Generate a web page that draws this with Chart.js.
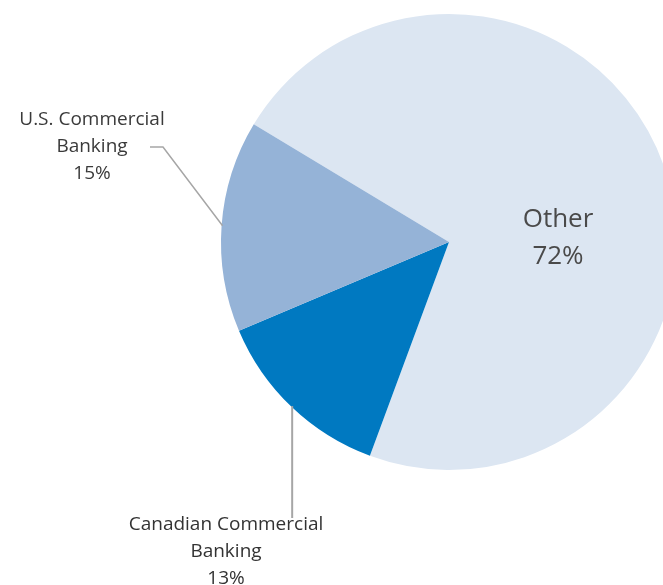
<!DOCTYPE html>
<html>
<head>
<meta charset="utf-8">
<script src="https://cdn.jsdelivr.net/npm/chart.js@4/dist/chart.umd.min.js"></script>
<style>
    html, body { margin: 0; padding: 0; background: #fff; overflow: hidden; }
    #wrap { position: relative; width: 700px; height: 585px; }
</style>
</head>
<body>
<div id="wrap"><canvas id="pieChart" width="700" height="585"></canvas></div>
<script>
// Data
const segmentNames = ['Other', 'Canadian Commercial Banking', 'U.S. Commercial Banking'];
const segmentShares = [72, 13, 15];
const segmentColors = ['#dce6f2', '#0079c1', '#95b3d7'];

// Label lines for each slice (text only)
const labelLines = [
    ['Other', '72%'],
    ['Canadian Commercial', 'Banking', '13%'],
    ['U.S. Commercial', 'Banking', '15%']
];

// Label placement: inside for the big slice, leader lines for the small ones
const labelStyle = [
    { inside: true, x: 558, y: 220, size: 26, lineH: 37, color: '#4a4a4a' },
    { inside: false, x: 226, y: 525, size: 19, lineH: 27, color: '#333333', leader: 'vertical', endY: 518 },
    { inside: false, x: 92, y: 120, size: 19, lineH: 27, color: '#3a3a3a', leader: 'elbow', elbowX: 163, elbowY: 147, startX: 150 }
];

const sliceLabels = {
    id: 'sliceLabels',
    afterDraw(chart) {
        const ctx = chart.ctx;
        const arcs = chart.getDatasetMeta(0).data;
        ctx.save();
        arcs.forEach((arc, i) => {
            const st = labelStyle[i];
            const mid = (arc.startAngle + arc.endAngle) / 2;
            const ax = arc.x + Math.cos(mid) * (arc.outerRadius - 1);
            const ay = arc.y + Math.sin(mid) * (arc.outerRadius - 1);

            // leader lines
            if (!st.inside) {
                ctx.strokeStyle = '#a6a6a6';
                ctx.lineWidth = 2;
                ctx.beginPath();
                if (st.leader === 'vertical') {
                    ctx.moveTo(ax, ay);
                    ctx.lineTo(ax, st.endY);
                } else {
                    ctx.lineWidth = 1.5;
                    ctx.moveTo(st.startX, st.elbowY);
                    ctx.lineTo(st.elbowX, st.elbowY);
                    ctx.lineTo(ax, ay);
                }
                ctx.stroke();
            }

            // text
            ctx.fillStyle = st.color;
            ctx.font = st.size + 'px "Open Sans", sans-serif';
            ctx.textAlign = 'center';
            ctx.textBaseline = 'middle';
            labelLines[i].forEach((line, j) => {
                ctx.fillText(line, st.x, st.y + j * st.lineH);
            });
        });
        ctx.restore();
    }
};

new Chart(document.getElementById('pieChart'), {
    type: 'pie',
    data: {
        labels: segmentNames,
        datasets: [{
            data: segmentShares,
            backgroundColor: segmentColors,
            borderWidth: 0
        }]
    },
    options: {
        responsive: false,
        animation: false,
        rotation: 301.1,
        layout: { padding: { left: 221, right: 23, top: 14, bottom: 115 } },
        plugins: {
            legend: { display: false },
            tooltip: { enabled: false }
        }
    },
    plugins: [sliceLabels]
});
</script>
</body>
</html>
